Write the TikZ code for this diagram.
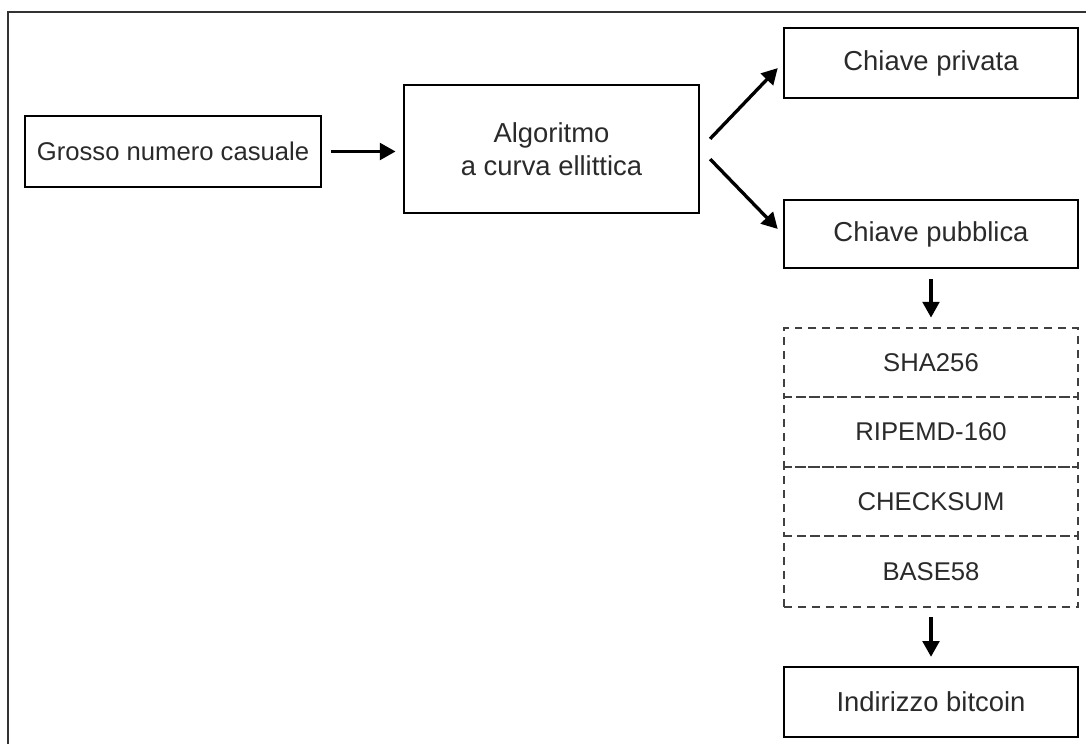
\documentclass[tikz,border=0pt]{standalone}
\usepackage{fontspec}
\setmainfont{Liberation Sans}
\usetikzlibrary{arrows.meta}
\definecolor{txt}{HTML}{2A2A2A}
\begin{document}
\begin{tikzpicture}[x=0.02cm,y=-0.02cm,
  box/.style={draw=black,line width=1.6pt,minimum width=5.88cm,inner sep=0pt,
    text=txt,font=\fontsize{15.6}{19}\selectfont,align=center},
  dbox/.style={draw=black!75,line width=0.85pt,dash pattern=on 4.5pt off 3.4pt,
    minimum width=5.88cm,inner sep=0pt,text=txt,font=\fontsize{14.6}{17}\selectfont},
  arr/.style={line width=1.9pt,-{Triangle[length=9pt,width=9.5pt]}},
  frame/.style={draw=black!80,line width=0.9pt}]
\useasboundingbox (0,0) rectangle (1086,744);
\draw[frame] (8,744) -- (8,12) -- (1086,12);
\node[box,minimum width=5.92cm,minimum height=1.42cm,font=\fontsize{14.6}{18}\selectfont] (gro) at (173,151.5) {Grosso numero casuale};
\node[box,minimum width=5.9cm,minimum height=2.56cm] (alg) at (551.5,149) {Algoritmo\\a curva ellittica};
\node[box,minimum height=1.4cm] (priv) at (931,63) {Chiave privata};
\node[box,minimum height=1.36cm] (pub) at (931,234) {Chiave pubblica};
\node[dbox,minimum height=1.38cm] (sha) at (931,362.5) {SHA256};
\node[dbox,minimum height=1.4cm] (rip) at (931,432) {RIPEMD-160};
\node[dbox,minimum height=1.38cm] (chk) at (931,501.5) {CHECKSUM};
\node[dbox,minimum height=1.42cm] (b58) at (931,571.5) {BASE58};
\node[box,minimum height=1.4cm] (addr) at (931,702) {Indirizzo bitcoin};
\draw[arr,shorten <=5pt,shorten >=4pt] (gro.east) -- (gro.east -| alg.west);
\draw[arr,shorten <=8pt,shorten >=4pt] (alg.east) -- (priv.west);
\draw[arr,shorten <=8pt,shorten >=4pt] (alg.east) -- (pub.west);
\draw[arr,shorten <=5.5pt,shorten >=5.5pt] (pub.south) -- (sha.north);
\draw[arr,shorten <=5.5pt,shorten >=5pt] (b58.south) -- (addr.north);
\end{tikzpicture}
\end{document}
